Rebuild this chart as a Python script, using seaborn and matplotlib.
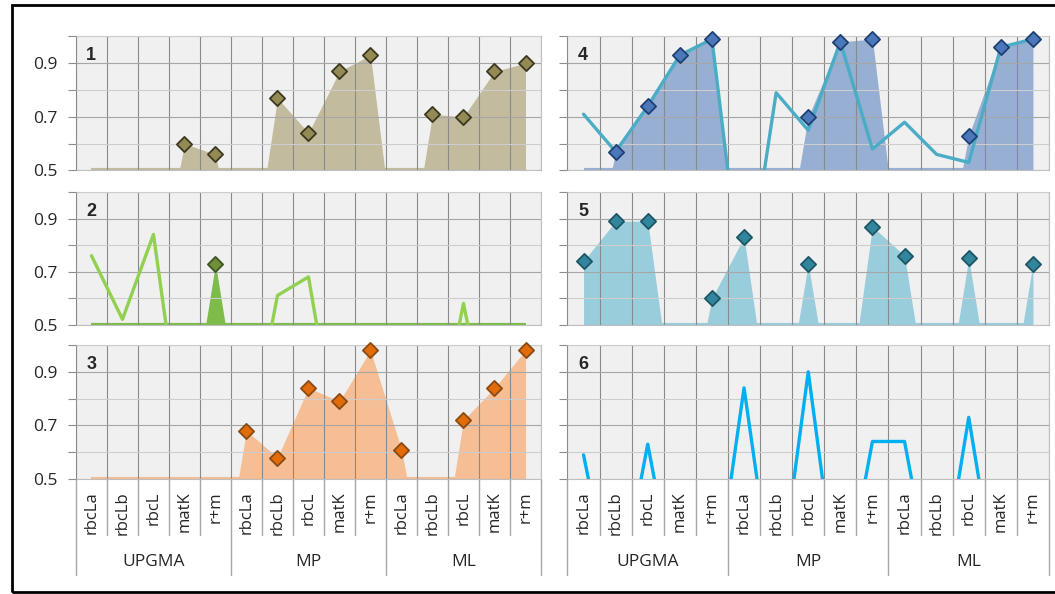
import numpy as np
import pandas as pd
import matplotlib.pyplot as plt
import seaborn as sns
from matplotlib.patches import Rectangle

# Categories
markers = ["rbcLa", "rbcLb", "rbcL", "matK", "r+m"]
groups = ["UPGMA", "MP", "ML"]
categories = markers * len(groups)

# Panel values (0 = no value, drawn below the 0.5 axis floor)
p1_area = [0, 0, 0, 0.60, 0.56, 0, 0.77, 0.64, 0.87, 0.93, 0, 0.71, 0.70, 0.87, 0.90]
p2_line = [0.76, 0.52, 0.84, 0, 0, 0, 0.61, 0.68, 0, 0, 0, 0, 0.58, 0, 0]
p2_area = [0, 0, 0, 0, 0.73, 0, 0, 0, 0, 0, 0, 0, 0, 0, 0]
p3_area = [0, 0, 0, 0, 0, 0.68, 0.58, 0.84, 0.79, 0.98, 0.61, 0, 0.72, 0.84, 0.98]
p4_area = [0, 0.57, 0.74, 0.93, 0.99, 0, 0, 0.70, 0.98, 0.99, 0, 0, 0.63, 0.96, 0.99]
p4_line = [0.71, 0.57, 0.74, 0.93, 0.99, 0, 0.79, 0.65, 0.98, 0.58, 0.68, 0.56, 0.53, 0.96, 0.99]
p5_area = [0.74, 0.89, 0.89, 0, 0.60, 0.83, 0, 0.73, 0, 0.87, 0.76, 0, 0.75, 0, 0.73]
p6_line = [0.59, 0, 0.63, 0, 0, 0.84, 0, 0.90, 0, 0.64, 0.64, 0, 0.73, 0, 0]

sns.set_style("white")
plt.rcParams["font.family"] = ["Open Sans", "DejaVu Sans"]

x = np.arange(len(categories))

fig = plt.figure(figsize=(10.55, 5.94), dpi=100)

# outer frame
fig.patches.append(Rectangle((12 / 1055, 2 / 594), 1.2, 1 - 7 / 594, transform=fig.transFigure,
                             fill=False, edgecolor="black", lw=2, zorder=10))

col_pos = [(0.0720, 0.4408), (0.5379, 0.4564)]
row_pos = [(0.7130, 0.2256), (0.4535, 0.2232), (0.1936, 0.2256)]


def style_axes(ax, show_ylabels, bottom_row):
    ax.set_xlim(-0.5, len(categories) - 0.5)
    ax.set_ylim(0.5, 1.0)
    ax.set_facecolor("#F0F0F0")
    ax.set_axisbelow(False)
    ax.set_yticks([0.5, 0.7, 0.9])
    ax.set_yticks([0.6, 0.8, 1.0], minor=True)
    ax.set_xticks(x)
    ax.set_xticks(np.arange(-0.5, len(categories), 1), minor=True)
    ax.grid(which="minor", axis="x", color="#8A8A8A", lw=0.8)
    ax.grid(which="major", axis="y", color="#A6A6A6", lw=0.8)
    ax.grid(which="minor", axis="y", color="#CDCDCD", lw=0.8)
    ax.tick_params(axis="y", which="both", direction="out", length=6, width=0.8,
                   color="#8C8C8C", pad=7, labelsize=12.5, labelcolor="#262626",
                   left=True)
    ax.tick_params(axis="x", which="both", length=0)
    for s in ax.spines.values():
        s.set_color("#BFBFBF")
        s.set_linewidth(0.8)
    if not show_ylabels:
        ax.set_yticklabels([])
    if bottom_row:
        ax.set_xticklabels(categories, rotation=90, fontsize=12, color="#262626")
        ax.tick_params(axis="x", pad=9)
        tr = ax.get_xaxis_transform()
        for b in np.arange(-0.5, len(categories), 1):
            edge = abs((b + 0.5) % len(markers)) < 1e-9
            ax.plot([b, b], [0, -0.72 if edge else -0.42], transform=tr, clip_on=False,
                    color="#A6A6A6", lw=1)
        for i, g in enumerate(groups):
            ax.text(i * len(markers) + (len(markers) - 1) / 2, -0.617, g, transform=tr,
                    ha="center", va="center", fontsize=12.5, color="#262626")
    else:
        ax.set_xticklabels([])
    ax.set_xlabel("")
    ax.set_ylabel("")


def draw_area(ax, vals, fill, mface, medge):
    vals = np.asarray(vals, dtype=float)
    ax.fill_between(x, 0, vals, color=fill, lw=0, zorder=1)
    ax.hlines(0.5, x[0], x[-1], color=fill, lw=3, zorder=1)
    pts = pd.DataFrame({"x": x, "y": vals})
    pts = pts[pts["y"] > 0]
    sns.scatterplot(data=pts, x="x", y="y", marker="D", s=60, color=mface,
                    edgecolor=medge, linewidth=1.3, ax=ax, zorder=5, clip_on=False)


def draw_line(ax, vals, color):
    sns.lineplot(x=x, y=np.asarray(vals, dtype=float), color=color, lw=2.4, ax=ax, zorder=3)


panels = {}
for r in range(3):
    for c in range(2):
        left, width = col_pos[c]
        bottom, height = row_pos[r]
        ax = fig.add_axes([left, bottom, width, height])
        panels[c * 3 + r + 1] = ax

# 1
draw_area(panels[1], p1_area, "#C2BB9E", "#948A54", "#3B3820")
# 2
draw_area(panels[2], p2_area, "#7DBB4A", "#6F8F3A", "#3F5222")
draw_line(panels[2], p2_line, "#92D050")
# 3
draw_area(panels[3], p3_area, "#F6BE94", "#E26B0A", "#8A4A14")
# 4
draw_area(panels[4], p4_area, "#96AFD3", "#4A78BA", "#1F3F73")
draw_line(panels[4], p4_line, "#4BACC6")
# 5
draw_area(panels[5], p5_area, "#9ACDDC", "#31859C", "#1E5564")
# 6
draw_line(panels[6], p6_line, "#00B0F0")

for n, ax in panels.items():
    style_axes(ax, show_ylabels=(n <= 3), bottom_row=(n in (3, 6)))
    ax.text(0.022, 0.92, str(n), transform=ax.transAxes, ha="left", va="top",
            fontsize=13, fontweight="bold", family="Liberation Sans", zorder=6)

fig.savefig("out.png", dpi=100)
